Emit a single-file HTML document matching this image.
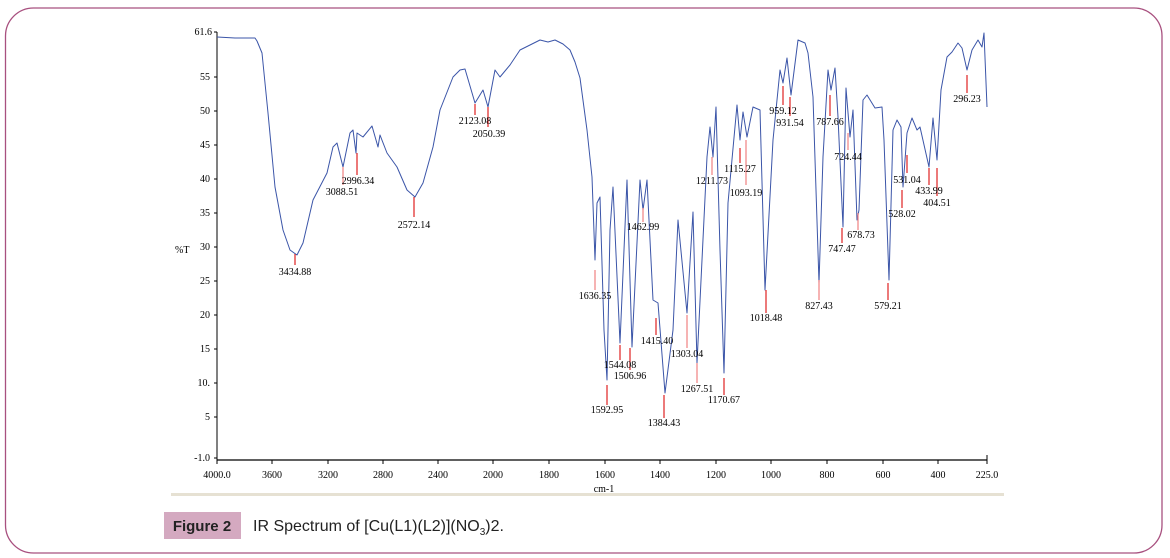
<!DOCTYPE html>
<html><head><meta charset="utf-8"><style>
html,body{margin:0;padding:0;background:#fff;}
svg{display:block;}
</style></head><body>
<svg width="1170" height="558" viewBox="0 0 1170 558" xmlns="http://www.w3.org/2000/svg">
<rect x="5.5" y="8" width="1156.5" height="545" rx="28" ry="28" fill="#fff" stroke="#a8507f" stroke-width="1.3"/>
<g font-family="Liberation Serif, serif" font-size="10" fill="#000">
<line x1="217" y1="32" x2="217" y2="460" stroke="#000" stroke-width="1"/>
<line x1="217" y1="460" x2="987" y2="460" stroke="#000" stroke-width="1.2"/>
<g stroke="#000" stroke-width="1">
<line x1="214" y1="32" x2="217" y2="32"/><line x1="214" y1="77" x2="217" y2="77"/><line x1="214" y1="111" x2="217" y2="111"/><line x1="214" y1="145" x2="217" y2="145"/><line x1="214" y1="179" x2="217" y2="179"/><line x1="214" y1="213" x2="217" y2="213"/><line x1="214" y1="247" x2="217" y2="247"/><line x1="214" y1="281" x2="217" y2="281"/><line x1="214" y1="315" x2="217" y2="315"/><line x1="214" y1="349" x2="217" y2="349"/><line x1="214" y1="383" x2="217" y2="383"/><line x1="214" y1="417" x2="217" y2="417"/><line x1="214" y1="458" x2="217" y2="458"/>
<line x1="217" y1="460" x2="217" y2="464"/><line x1="272" y1="460" x2="272" y2="464"/><line x1="328" y1="460" x2="328" y2="464"/><line x1="383" y1="460" x2="383" y2="464"/><line x1="438" y1="460" x2="438" y2="464"/><line x1="493" y1="460" x2="493" y2="464"/><line x1="549" y1="460" x2="549" y2="464"/><line x1="605" y1="460" x2="605" y2="464"/><line x1="660" y1="460" x2="660" y2="464"/><line x1="716" y1="460" x2="716" y2="464"/><line x1="771" y1="460" x2="771" y2="464"/><line x1="827" y1="460" x2="827" y2="464"/><line x1="883" y1="460" x2="883" y2="464"/><line x1="938" y1="460" x2="938" y2="464"/><line x1="987" y1="455" x2="987" y2="464"/>
</g>
<g text-anchor="end">
<text x="212" y="35">61.6</text><text x="210" y="80">55</text><text x="210" y="114">50</text><text x="210" y="148">45</text><text x="210" y="182">40</text><text x="210" y="216">35</text><text x="210" y="250">30</text><text x="210" y="284">25</text><text x="210" y="318">20</text><text x="210" y="352">15</text><text x="210" y="386">10.</text><text x="210" y="420">5</text><text x="210" y="461">-1.0</text>
</g>
<text x="175" y="253">%T</text>
<g text-anchor="middle">
<text x="217" y="478">4000.0</text><text x="272" y="478">3600</text><text x="328" y="478">3200</text><text x="383" y="478">2800</text><text x="438" y="478">2400</text><text x="493" y="478">2000</text><text x="549" y="478">1800</text><text x="605" y="478">1600</text><text x="660" y="478">1400</text><text x="716" y="478">1200</text><text x="771" y="478">1000</text><text x="827" y="478">800</text><text x="883" y="478">600</text><text x="938" y="478">400</text><text x="987" y="478">225.0</text>
<text x="604" y="492">cm-1</text>
</g>
<polyline fill="none" stroke="#3b55a8" stroke-width="1" stroke-linejoin="round" points="217,37 235,38 255,38 257,41 262,53 268,113 275,187 283,230 290,250 297,255 303,243 313,200 327,173 333,147 337,143 343,167 350,133 353,130 356,153 357,133 363,137 372,126 378,147 380,135 387,153 397,167 407,190 415,197 423,183 433,147 440,110 453,77 460,70 465,69 475,103 483,90 488,107 495,70 500,77 510,65 520,50 530,45 540,40 548,42 555,40 563,44 570,50 575,62 580,78 587,130 592,177 595,260 597,203 600,197 604,330 607,380 610,230 613,187 620,343 627,180 632,347 640,180 643,210 647,180 653,300 658,303 665,393 673,330 678,220 687,313 693,212 697,363 707,157 710,127 713,157 716,107 720,250 724,373 728,203 737,105 740,140 743,112 747,137 753,107 760,110 765,290 773,140 780,70 783,83 787,58 791,95 798,40 805,43 808,53 813,97 819,283 823,157 828,70 831,90 835,68 838,117 843,227 846,88 850,137 853,110 857,220 859,210 863,100 867,95 875,108 882,107 884,140 889,280 893,130 897,120 901,127 903,187 907,133 912,118 917,130 920,127 929,167 933,118 937,160 941,90 947,57 952,52 958,43 962,48 967,70 972,50 978,40 982,47 984,33 987,107"/>
<g stroke="#e02020" stroke-width="1.2">
<line x1="295" y1="254" x2="295" y2="265"/><line x1="343" y1="167" x2="343" y2="185" stroke="#f08080"/><line x1="357" y1="153" x2="357" y2="175"/><line x1="414" y1="197" x2="414" y2="217"/><line x1="475" y1="104" x2="475" y2="115"/><line x1="488" y1="107" x2="488" y2="127"/>
<line x1="595" y1="270" x2="595" y2="290" stroke="#f08080"/><line x1="607" y1="385" x2="607" y2="405"/><line x1="620" y1="345" x2="620" y2="360"/><line x1="630" y1="348" x2="630" y2="370"/><line x1="643" y1="208" x2="643" y2="222" stroke="#f08080"/><line x1="656" y1="318" x2="656" y2="335"/><line x1="664" y1="395" x2="664" y2="418"/><line x1="687" y1="315" x2="687" y2="348" stroke="#f08080"/><line x1="697" y1="363" x2="697" y2="383" stroke="#f08080"/><line x1="712" y1="157" x2="712" y2="175" stroke="#f08080"/><line x1="724" y1="378" x2="724" y2="395"/><line x1="740" y1="148" x2="740" y2="163"/><line x1="746" y1="140" x2="746" y2="185" stroke="#f08080"/><line x1="766" y1="290" x2="766" y2="313"/><line x1="783" y1="86" x2="783" y2="105"/><line x1="790" y1="97" x2="790" y2="116"/><line x1="830" y1="95" x2="830" y2="116"/><line x1="819" y1="280" x2="819" y2="300" stroke="#f08080"/><line x1="848" y1="133" x2="848" y2="150" stroke="#f08080"/><line x1="842" y1="228" x2="842" y2="243"/><line x1="858" y1="213" x2="858" y2="230" stroke="#f08080"/><line x1="888" y1="283" x2="888" y2="300"/><line x1="907" y1="155" x2="907" y2="173"/><line x1="902" y1="190" x2="902" y2="208"/><line x1="929" y1="168" x2="929" y2="185"/><line x1="937" y1="168" x2="937" y2="196"/><line x1="967" y1="75" x2="967" y2="93"/>
</g>
<g text-anchor="middle">
<text x="295" y="275">3434.88</text><text x="342" y="195">3088.51</text><text x="358" y="184">2996.34</text><text x="414" y="228">2572.14</text><text x="475" y="124">2123.08</text><text x="489" y="137">2050.39</text>
<text x="595" y="299">1636.35</text><text x="607" y="413">1592.95</text><text x="620" y="368">1544.08</text><text x="630" y="379">1506.96</text><text x="643" y="230">1462.99</text><text x="657" y="344">1415.40</text><text x="664" y="426">1384.43</text><text x="687" y="357">1303.04</text><text x="697" y="392">1267.51</text><text x="712" y="184">1211.73</text><text x="724" y="403">1170.67</text><text x="740" y="172">1115.27</text><text x="746" y="196">1093.19</text><text x="766" y="321">1018.48</text><text x="783" y="114">959.12</text><text x="790" y="126">931.54</text><text x="830" y="125">787.66</text><text x="819" y="309">827.43</text><text x="848" y="160">724.44</text><text x="842" y="252">747.47</text><text x="861" y="238">678.73</text><text x="888" y="309">579.21</text><text x="907" y="183">531.04</text><text x="902" y="217">528.02</text><text x="929" y="194">433.99</text><text x="937" y="206">404.51</text><text x="967" y="102">296.23</text>
</g>
</g>
<rect x="171" y="493" width="833" height="3" fill="#e6e1d3"/>
<rect x="164" y="512" width="77" height="27" fill="#d4a9c0"/>
<text x="202" y="531" text-anchor="middle" font-family="Liberation Sans, sans-serif" font-size="15" font-weight="bold" fill="#222">Figure 2</text>
<text x="253" y="531" font-family="Liberation Sans, sans-serif" font-size="16" fill="#222">IR Spectrum of [Cu(L1)(L2)](NO<tspan font-size="10" dy="4">3</tspan><tspan dy="-4">)2.</tspan></text>
</svg>
</body></html>
